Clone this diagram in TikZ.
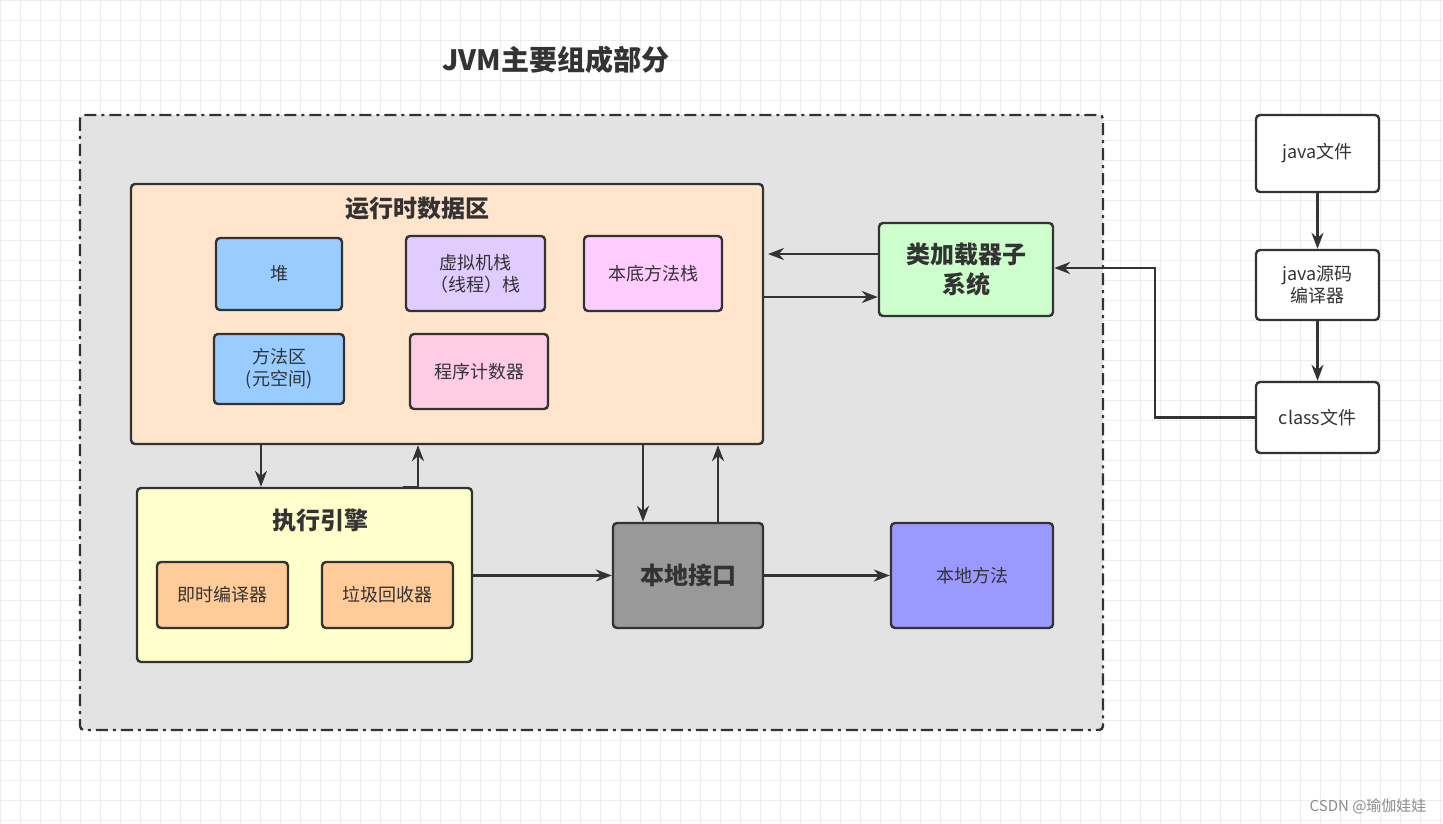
\documentclass[tikz,border=0pt]{standalone}
\usepackage{fontspec}
\setmainfont{Noto Sans CJK SC}
\usetikzlibrary{arrows.meta}
\definecolor{ln}{HTML}{333333}
\tikzset{
 box/.style={draw=ln,line width=2.4pt,rounded corners=4pt,align=center,text=ln,font=\fontsize{18}{22}\selectfont,inner sep=0pt},
 bbox/.style={box,font=\bfseries\fontsize{24}{30}\selectfont},
 ar/.style={draw=ln,line width=2.6pt,-{Stealth[length=16pt,width=12pt]}},
 ttl/.style={text=ln,font=\bfseries\fontsize{24}{30}\selectfont}
}
\begin{document}
\begin{tikzpicture}[x=1pt,y=-1pt]
\useasboundingbox (0,0) rectangle (1443,824);
\fill[white] (0,0) rectangle (1443,824);
\foreach \i in {0,20,...,1440} \draw[black!7,line width=0.8pt] (\i,0) -- (\i,824);
\foreach \j in {0,20,...,820} \draw[black!7,line width=0.8pt] (0,\j) -- (1443,\j);
\node[ttl,font=\bfseries\fontsize{28}{34}\selectfont] (title) at (556,60) {JVM主要组成部分};
\draw[ln,line width=2.4pt,dash pattern=on 12pt off 5pt on 3pt off 5pt,fill=black!11,rounded corners=4pt] (80,115) rectangle (1103,730);
\node[box,fill={rgb,255:red,255;green,229;blue,204},minimum width=632pt,minimum height=260pt] (rt) at (447,314) {};
\node[ttl] (rtt) at (417,209) {运行时数据区};
\node[box,fill={rgb,255:red,153;green,204;blue,255},minimum width=126pt,minimum height=72pt] (heap) at (279,274) {堆};
\node[box,fill={rgb,255:red,224;green,204;blue,255},minimum width=139pt,minimum height=75pt] (vms) at (475.5,273.5) {虚拟机栈\\（线程）栈};
\node[box,fill={rgb,255:red,255;green,204;blue,255},minimum width=138pt,minimum height=75pt] (nms) at (653,273.5) {本底方法栈};
\node[box,fill={rgb,255:red,153;green,204;blue,255},minimum width=130pt,minimum height=70pt] (ma) at (279,369) {方法区\\(元空间)};
\node[box,fill={rgb,255:red,255;green,204;blue,230},minimum width=138pt,minimum height=75pt] (pc) at (479,371.5) {程序计数器};
\node[bbox,fill={rgb,255:red,204;green,255;blue,204},minimum width=174pt,minimum height=93pt] (cl) at (966,269.5) {类加载器子\\系统};
\node[box,fill=white,minimum width=123pt,minimum height=77pt] (jf) at (1317.5,153.5) {java文件};
\node[box,fill=white,minimum width=123pt,minimum height=70pt] (jc) at (1317.5,285) {java源码\\编译器};
\node[box,fill=white,minimum width=123pt,minimum height=71pt] (cf) at (1317.5,417.5) {class文件};
\node[box,fill={rgb,255:red,255;green,255;blue,204},minimum width=335pt,minimum height=174pt] (ee) at (304.5,575) {};
\node[ttl] (eet) at (320,520) {执行引擎};
\node[box,fill={rgb,255:red,255;green,204;blue,153},minimum width=131pt,minimum height=66pt] (jit) at (222.5,595) {即时编译器};
\node[box,fill={rgb,255:red,255;green,204;blue,153},minimum width=131pt,minimum height=66pt] (gc) at (387.5,595) {垃圾回收器};
\node[bbox,fill={rgb,255:red,153;green,153;blue,153},minimum width=150pt,minimum height=105pt] (ni) at (688,575.5) {本地接口};
\node[box,fill={rgb,255:red,153;green,153;blue,255},minimum width=162pt,minimum height=105pt] (nm) at (972,575.5) {本地方法};
\draw[ar] (cl.west|-0,254) -- (768,254);
\draw[ar] (rt.east|-0,297) -- (cl.west|-0,297);
\draw[ar] (jf) -- (jc);
\draw[ar] (jc) -- (cf);
\draw[ar] (cf.west) -- (1155,417.5) |- (cl.east|-0,268);
\draw[ar] (rt.south-|261,0) -- (ee.north-|261,0);
\draw[ar] (ee.north-|403,0) -| (rt.south-|418,0);
\draw[ar] (rt.south-|643,0) -- (ni.north-|643,0);
\draw[ar] (ni.north-|718,0) -- (rt.south-|718,0);
\draw[ar] (ee.east|-ni) -- (ni.west);
\draw[ar] (ni.east) -- (nm.west);
\node[text=black!45,font=\fontsize{15}{18}\selectfont,anchor=east] (wm) at (1430,806) {CSDN @瑜伽娃娃};
\end{tikzpicture}
\end{document}
